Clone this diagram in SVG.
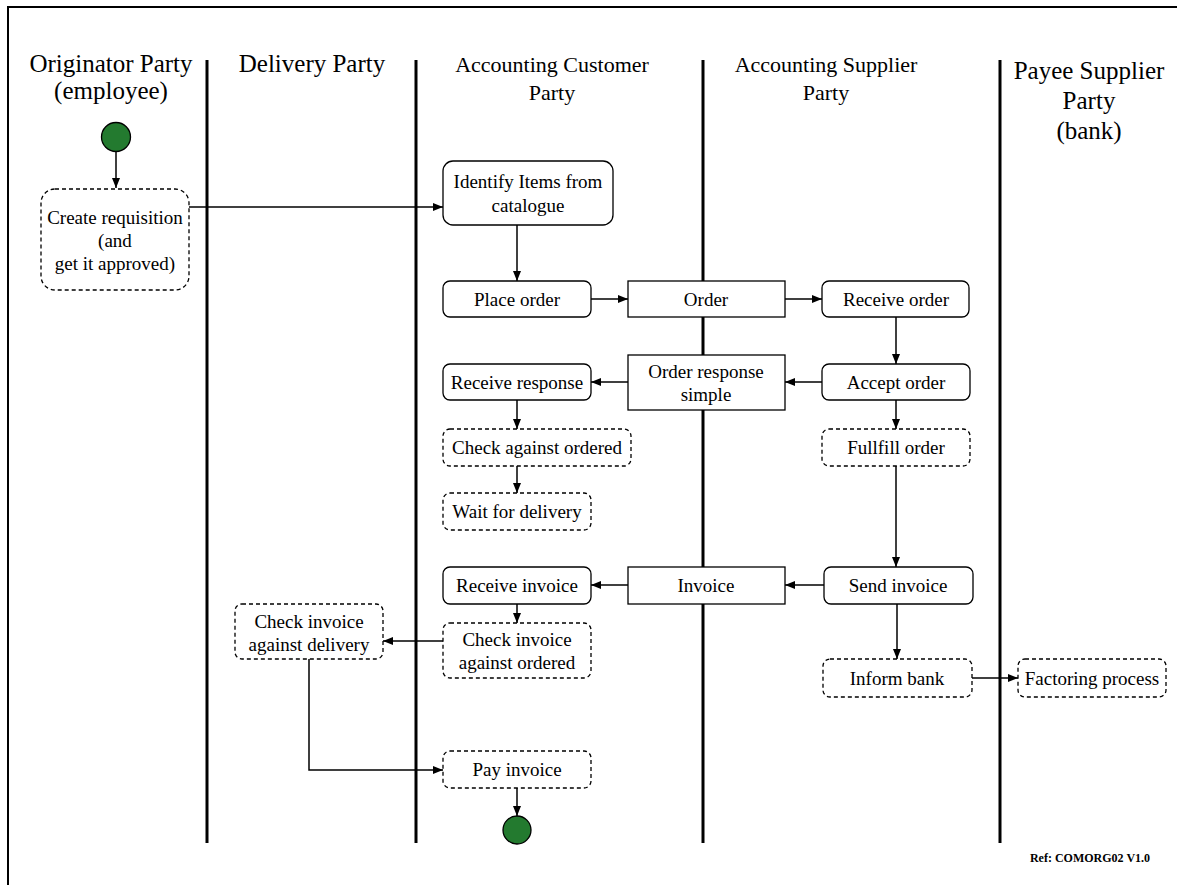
<svg xmlns="http://www.w3.org/2000/svg" width="1177" height="885" viewBox="0 0 1177 885">
<defs>
<marker id="ah" markerWidth="10" markerHeight="8" refX="10" refY="4" orient="auto" markerUnits="userSpaceOnUse">
<path d="M0,0 L10,4 L0,8 Z" fill="#000"/>
</marker>
<style>
text{font-family:'Liberation Serif',serif;fill:#000;text-anchor:middle}
.hdr{font-size:25px}
.hdr2{font-size:22px}
.lbl{font-size:19px}
.ref{font-size:12px;font-weight:bold}
.lane{stroke:#000;stroke-width:3;fill:none}
.solid{fill:#fff;stroke:#000;stroke-width:1.3}
.dash{fill:#fff;stroke:#000;stroke-width:1.3;stroke-dasharray:4,3}
.conn{stroke:#000;stroke-width:1.5;fill:none}
.ball{fill:#237a2f;stroke:#000;stroke-width:1.3}
</style>
</defs>
<rect x="0" y="0" width="1177" height="885" fill="#fff"/>
<rect x="8" y="7" width="1200" height="900" fill="none" stroke="#000" stroke-width="2"/>

<g id="lanes">
<line class="lane" x1="207" y1="60" x2="207" y2="843"/>
<line class="lane" x1="416" y1="60" x2="416" y2="843"/>
<line class="lane" x1="703" y1="60" x2="703" y2="843"/>
<line class="lane" x1="1000" y1="60" x2="1000" y2="843"/>
</g>

<g id="headers">
<text class="hdr" x="111" y="72">Originator Party</text>
<text class="hdr" x="111" y="99">(employee)</text>
<text class="hdr" x="312" y="72">Delivery Party</text>
<text class="hdr2" x="552" y="72">Accounting Customer</text>
<text class="hdr2" x="552" y="100">Party</text>
<text class="hdr2" x="826" y="72">Accounting Supplier</text>
<text class="hdr2" x="826" y="100">Party</text>
<text class="hdr" x="1089" y="79">Payee Supplier</text>
<text class="hdr" x="1089" y="109">Party</text>
<text class="hdr" x="1089" y="139">(bank)</text>
</g>

<g id="connectors">
<line class="conn" x1="116" y1="151" x2="116" y2="188" marker-end="url(#ah)"/>
<line class="conn" x1="189" y1="207" x2="443" y2="207" marker-end="url(#ah)"/>
<line class="conn" x1="517" y1="225" x2="517" y2="281" marker-end="url(#ah)"/>
<line class="conn" x1="591" y1="299" x2="628" y2="299" marker-end="url(#ah)"/>
<line class="conn" x1="785" y1="299" x2="822" y2="299" marker-end="url(#ah)"/>
<line class="conn" x1="896" y1="317" x2="896" y2="364" marker-end="url(#ah)"/>
<line class="conn" x1="822" y1="382" x2="785" y2="382" marker-end="url(#ah)"/>
<line class="conn" x1="628" y1="382" x2="591" y2="382" marker-end="url(#ah)"/>
<line class="conn" x1="517" y1="400" x2="517" y2="429" marker-end="url(#ah)"/>
<line class="conn" x1="517" y1="466" x2="517" y2="493" marker-end="url(#ah)"/>
<line class="conn" x1="896" y1="400" x2="896" y2="429" marker-end="url(#ah)"/>
<line class="conn" x1="896" y1="466" x2="896" y2="567" marker-end="url(#ah)"/>
<line class="conn" x1="824" y1="585" x2="785" y2="585" marker-end="url(#ah)"/>
<line class="conn" x1="628" y1="585" x2="591" y2="585" marker-end="url(#ah)"/>
<line class="conn" x1="517" y1="604" x2="517" y2="623" marker-end="url(#ah)"/>
<line class="conn" x1="443" y1="641" x2="383" y2="641" marker-end="url(#ah)"/>
<polyline class="conn" points="309,659 309,770 443,770" marker-end="url(#ah)"/>
<line class="conn" x1="517" y1="788" x2="517" y2="816" marker-end="url(#ah)"/>
<line class="conn" x1="897" y1="604" x2="897" y2="659" marker-end="url(#ah)"/>
<line class="conn" x1="972" y1="678" x2="1018" y2="678" marker-end="url(#ah)"/>
</g>

<g id="start">
<circle class="ball" cx="116" cy="137" r="14.5"/>
</g>

<g id="create-requisition">
<rect class="dash" x="41" y="189" width="148" height="101" rx="14"/>
<text class="lbl" x="115" y="224">Create requisition</text>
<text class="lbl" x="115" y="247">(and</text>
<text class="lbl" x="115" y="270">get it approved)</text>
</g>

<g id="identify-items">
<rect class="solid" x="443" y="161" width="170" height="64" rx="10"/>
<text class="lbl" x="528" y="188">Identify Items from</text>
<text class="lbl" x="528" y="212">catalogue</text>
</g>

<g id="place-order">
<rect class="solid" x="443" y="281" width="148" height="36" rx="7"/>
<text class="lbl" x="517" y="306">Place order</text>
</g>

<g id="order">
<rect class="solid" x="628" y="281" width="157" height="36"/>
<text class="lbl" x="706" y="306">Order</text>
</g>

<g id="receive-order">
<rect class="solid" x="822" y="281" width="147" height="36" rx="7"/>
<text class="lbl" x="896" y="306">Receive order</text>
</g>

<g id="accept-order">
<rect class="solid" x="822" y="364" width="148" height="36" rx="7"/>
<text class="lbl" x="896" y="389">Accept order</text>
</g>

<g id="order-response-simple">
<rect class="solid" x="628" y="355" width="157" height="55"/>
<text class="lbl" x="706" y="378">Order response</text>
<text class="lbl" x="706" y="401">simple</text>
</g>

<g id="receive-response">
<rect class="solid" x="443" y="364" width="148" height="36" rx="7"/>
<text class="lbl" x="517" y="389">Receive response</text>
</g>

<g id="check-against-ordered">
<rect class="dash" x="443" y="429" width="188" height="37" rx="7"/>
<text class="lbl" x="537" y="454">Check against ordered</text>
</g>

<g id="wait-for-delivery">
<rect class="dash" x="443" y="493" width="148" height="37" rx="7"/>
<text class="lbl" x="517" y="518">Wait for delivery</text>
</g>

<g id="fullfill-order">
<rect class="dash" x="822" y="429" width="148" height="37" rx="7"/>
<text class="lbl" x="896" y="454">Fullfill order</text>
</g>

<g id="send-invoice">
<rect class="solid" x="824" y="567" width="149" height="37" rx="7"/>
<text class="lbl" x="898" y="592">Send invoice</text>
</g>

<g id="invoice">
<rect class="solid" x="628" y="567" width="157" height="37"/>
<text class="lbl" x="706" y="592">Invoice</text>
</g>

<g id="receive-invoice">
<rect class="solid" x="443" y="567" width="148" height="37" rx="7"/>
<text class="lbl" x="517" y="592">Receive invoice</text>
</g>

<g id="check-invoice-against-ordered">
<rect class="dash" x="443" y="623" width="148" height="55" rx="7"/>
<text class="lbl" x="517" y="646">Check invoice</text>
<text class="lbl" x="517" y="669">against ordered</text>
</g>

<g id="check-invoice-against-delivery">
<rect class="dash" x="235" y="604" width="148" height="55" rx="7"/>
<text class="lbl" x="309" y="628">Check invoice</text>
<text class="lbl" x="309" y="651">against delivery</text>
</g>

<g id="pay-invoice">
<rect class="dash" x="443" y="751" width="148" height="37" rx="7"/>
<text class="lbl" x="517" y="776">Pay invoice</text>
</g>

<g id="end">
<circle class="ball" cx="517" cy="830" r="14"/>
</g>

<g id="inform-bank">
<rect class="dash" x="823" y="659" width="149" height="38" rx="7"/>
<text class="lbl" x="897" y="685">Inform bank</text>
</g>

<g id="factoring-process">
<rect class="dash" x="1018" y="659" width="148" height="38" rx="7"/>
<text class="lbl" x="1092" y="685">Factoring process</text>
</g>

<text class="ref" x="1090" y="862">Ref: COMORG02 V1.0</text>
</svg>
